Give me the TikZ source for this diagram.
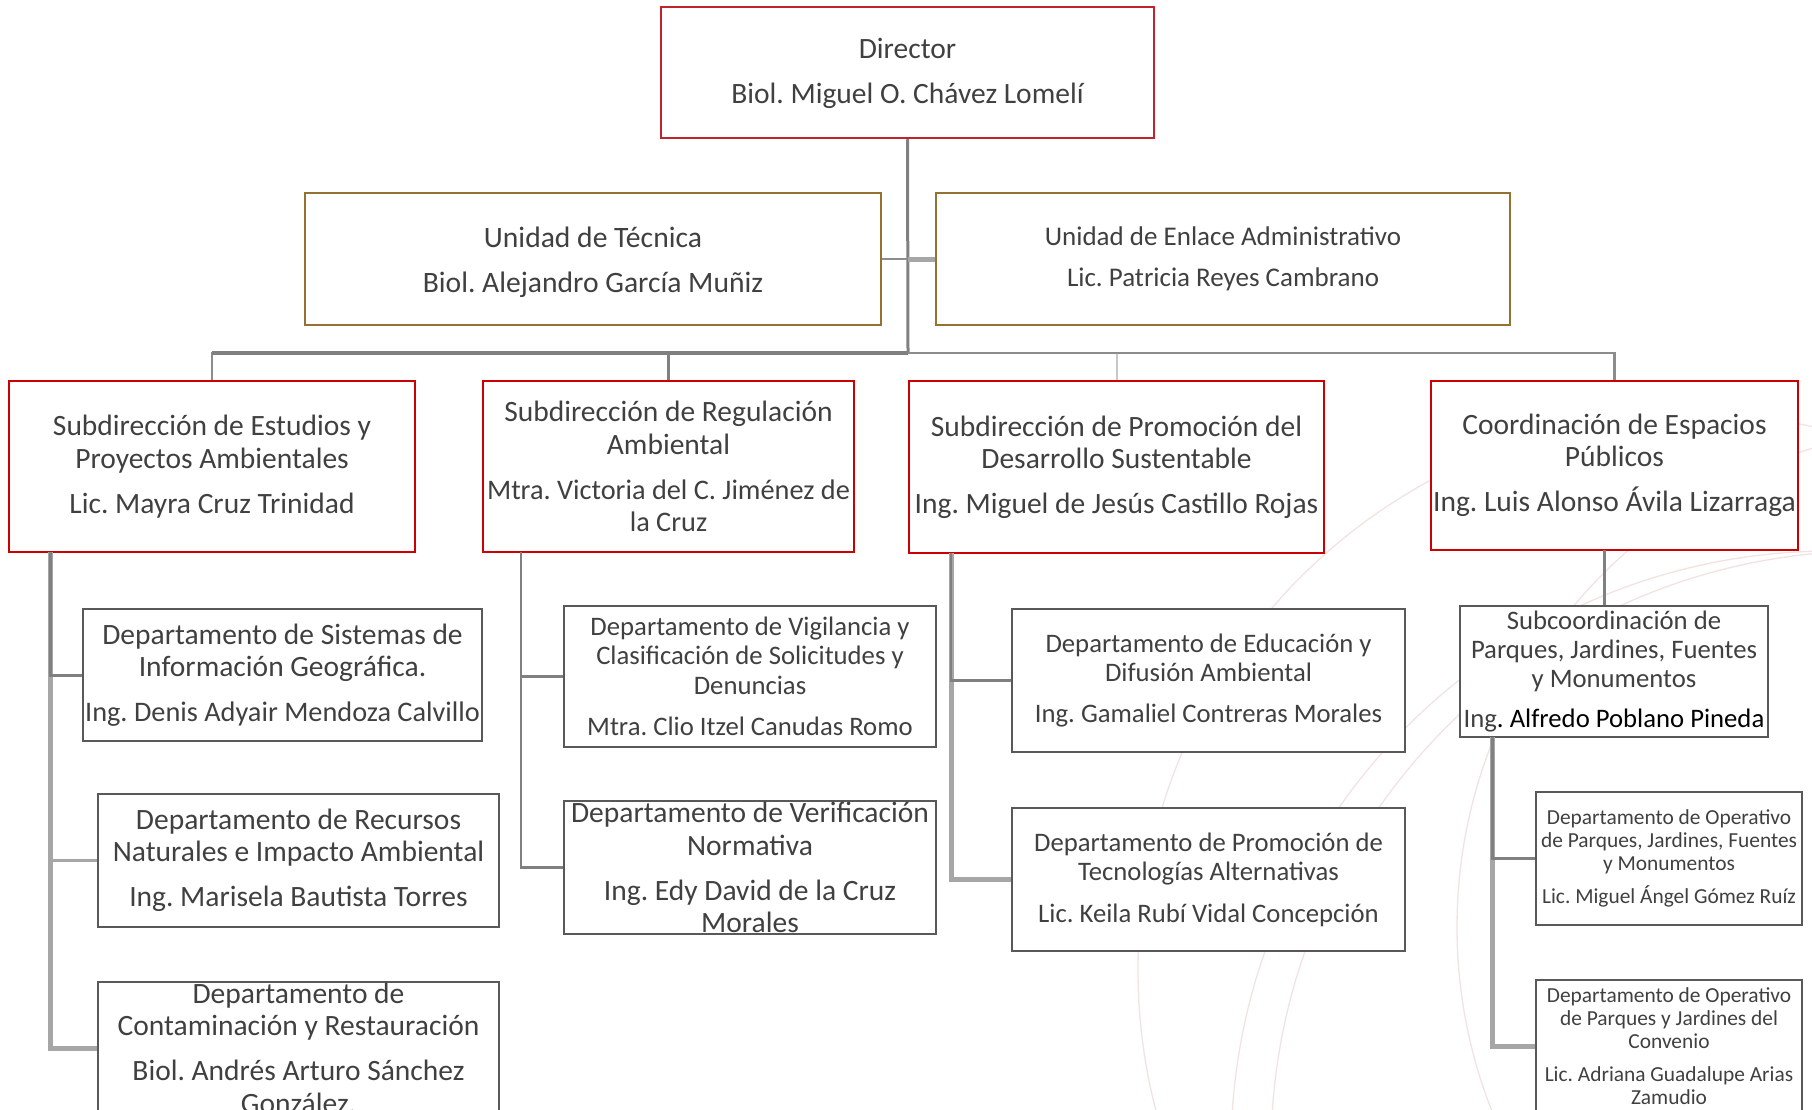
\documentclass[tikz,border=0pt]{standalone}
\usepackage{fontspec}
\setmainfont{Carlito}
\frenchspacing
\definecolor{txtgray}{HTML}{404040}
\definecolor{dirred}{HTML}{C0232E}
\definecolor{subred}{HTML}{CC0000}
\definecolor{goldc}{HTML}{94722F}
\definecolor{deptc}{HTML}{595959}
\definecolor{cdk}{HTML}{808080}
\definecolor{cmd}{HTML}{8C8C8C}
\definecolor{clt}{HTML}{A6A6A6}
\definecolor{cpl}{HTML}{C8C8C8}
\definecolor{wm}{HTML}{F2E2E2}
\tikzset{
  box/.style={rectangle, fill=white, line width=2.5pt, inner sep=0pt, align=center, text=txtgray},
  dirbox/.style={box, draw=dirred},
  redbox/.style={box, draw=subred},
  goldbox/.style={box, draw=goldc},
  deptbox/.style={box, draw=deptc},
  fA/.style={font=\fontsize{29.5}{32.4}\selectfont},
  fB/.style={font=\fontsize{26.7}{29.2}\selectfont},
  fC/.style={font=\fontsize{21.4}{22.8}\selectfont},
  cdark/.style={draw=cdk, line width=3pt},
  cmed/.style={draw=cmd, line width=2.5pt},
  clight/.style={draw=clt, line width=3pt},
  cthick/.style={draw=clt, line width=5pt},
  cpale/.style={draw=cpl, line width=2pt},
}
\newcommand{\nameA}[1]{{\fontsize{28.3}{32.4}\selectfont #1}}
\begin{document}
\begin{tikzpicture}[x=1pt,y=-1pt]
\useasboundingbox (0,0) rectangle (1812,1110);
% faint watermark circles
\begin{scope}
  \clip (0,0) rectangle (1812,1110);
  \begin{scope}[draw=wm, line width=1.3pt]
    \draw (1694,970) circle[radius=556];
    \draw (1831,1151) circle[radius=600];
    \draw (1871,1151) circle[radius=600];
    \draw (1957,927) circle[radius=500];
  \end{scope}
\end{scope}
% boxes
\node[dirbox, font=\fontsize{29.5}{34}\selectfont, minimum width=493pt, minimum height=131pt] (dir) at (907.5,72.5)
  {\rule{0pt}{23pt}Director\\[11pt]Biol. Miguel O. Chávez Lomelí};
\node[goldbox, font=\fontsize{29.6}{34}\selectfont, minimum width=576pt, minimum height=132pt] (tec) at (593,259)
  {\rule{0pt}{28pt}Unidad de Técnica\\[11pt]Biol. Alejandro García Muñiz};
\node[goldbox, font=\fontsize{27}{31}\selectfont, minimum width=574pt, minimum height=132pt] (enl) at (1223,259)
  {Unidad de Enlace Administrativo\\[10pt]Lic. Patricia Reyes Cambrano};
\node[redbox, fA, minimum width=406pt, minimum height=171pt] (s1) at (212,466.5)
  {Subdirección de Estudios y\\Proyectos Ambientales\\[12.6pt]Lic. Mayra Cruz Trinidad};
\node[redbox, fA, minimum width=371pt, minimum height=171pt] (s2) at (668.5,466.5)
  {Subdirección de Regulación\\Ambiental\\[12.6pt]\nameA{Mtra. Victoria del C. Jiménez de}\\\nameA{la Cruz}};
\node[redbox, fA, minimum width=415pt, minimum height=172pt] (s3) at (1116.5,467)
  {Subdirección de Promoción del\\Desarrollo Sustentable\\[12.6pt]Ing. Miguel de Jesús Castillo Rojas};
\node[redbox, fA, minimum width=367pt, minimum height=169pt] (s4) at (1614.5,465.5)
  {Coordinación de Espacios\\Públicos\\[12.6pt]Ing. Luis Alonso Ávila Lizarraga};
\node[deptbox, fA, minimum width=399pt, minimum height=132pt] (d1a) at (282.5,675)
  {Departamento de Sistemas de\\Información Geográfica.\\[12.6pt]\nameA{Ing. Denis Adyair Mendoza Calvillo}};
\node[deptbox, fA, minimum width=401pt, minimum height=133pt] (d1b) at (298.5,860.5)
  {Departamento de Recursos\\Naturales e Impacto Ambiental\\[12.6pt]Ing. Marisela Bautista Torres};
\node[deptbox, fA, minimum width=401pt, minimum height=132pt] (d1c) at (298.5,1048)
  {Departamento de\\Contaminación y Restauración\\[12.6pt]Biol. Andrés Arturo Sánchez\\González.};
\node[deptbox, fB, minimum width=372pt, minimum height=141pt] (d2a) at (750,676.5)
  {Departamento de Vigilancia y\\Clasificación de Solicitudes y\\Denuncias\\[12.5pt]Mtra. Clio Itzel Canudas Romo};
\node[deptbox, fA, minimum width=372pt, minimum height=133pt] (d2b) at (750,867.5)
  {Departamento de Verificación\\Normativa\\[12.6pt]Ing. Edy David de la Cruz\\Morales};
\node[deptbox, fB, minimum width=393pt, minimum height=143pt] (d3a) at (1208.5,680.5)
  {Departamento de Educación y\\Difusión Ambiental\\[12.4pt]Ing. Gamaliel Contreras Morales};
\node[deptbox, fB, minimum width=393pt, minimum height=143pt] (d3b) at (1208.5,879.5)
  {Departamento de Promoción de\\Tecnologías Alternativas\\[12.4pt]Lic. Keila Rubí Vidal Concepción};
\node[deptbox, fB, minimum width=308pt, minimum height=131pt] (sub4) at (1614,671.5)
  {Subcoordinación de\\Parques, Jardines, Fuentes\\y Monumentos\\[11pt]Ing{\color{black}. Alfredo Poblano Pineda}};
\node[deptbox, fC, minimum width=266pt, minimum height=133pt] (d4a) at (1669,858.5)
  {Departamento de Operativo\\de Parques, Jardines, Fuentes\\y Monumentos\\[10pt]Lic. Miguel Ángel Gómez Ruíz};
\node[deptbox, fC, minimum width=266pt, minimum height=132pt] (d4b) at (1669,1046)
  {Departamento de Operativo\\de Parques y Jardines del\\Convenio\\[10.6pt]Lic. Adriana Guadalupe Arias\\Zamudio};
% connector coordinates
\coordinate (bus) at (908,353);
\coordinate (t1) at (50,552);
\coordinate (t2) at (521,552);
\coordinate (t3) at (951,553);
\coordinate (t4) at (1604,550);
\coordinate (t5) at (1492,737);
% connectors
\draw[cdark] (dir.south) -- (bus);
\draw[cmed] (dir.south |- tec.east) -- (tec.east);
\draw[cthick] (dir.south |- enl.west) -- (enl.west);
\draw[cpale] (bus) -| (s3.north);
\draw[cmed] (bus) -| (s4.north);
\draw[cmed, line width=2pt] (bus) -| (s1.north);
\draw[cdark, line width=3.5pt] (bus) -- (bus -| s1.north);
\draw[cdark, line width=2.5pt] (bus) -| (s2.north);
\draw[cthick] (t1) |- (d1c.west);
\draw[clight] (t1) |- (d1b.west);
\draw[cdark] (t1) |- (d1a.west);
\draw[cdark, line width=2.5pt] (t2) |- (d2b.west);
\draw[cdark, line width=2.5pt] (t2) |- (d2a.west);
\draw[cthick] (t3) |- (d3b.west);
\draw[cdark, line width=2.5pt] (t3) |- (d3a.west);
\draw[cdark] (t4) -- (t4 |- sub4.north);
\draw[cthick] (t5) |- (d4b.west);
\draw[cdark] (t5) |- (d4a.west);
\end{tikzpicture}
\end{document}
